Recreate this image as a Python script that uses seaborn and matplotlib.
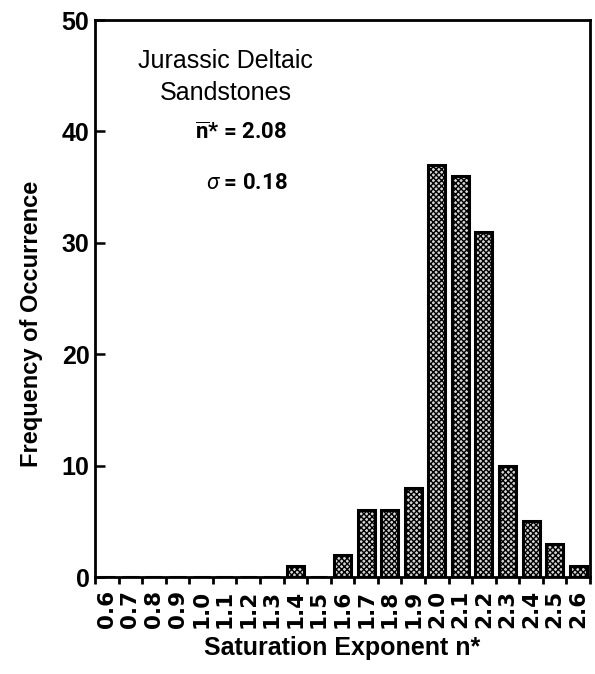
import matplotlib
matplotlib.use("Agg")
import matplotlib.pyplot as plt
import seaborn as sns
import pandas as pd
import numpy as np

# Histogram of saturation exponents
categories = ["0.6", "0.7", "0.8", "0.9", "1.0", "1.1", "1.2", "1.3", "1.4", "1.5", "1.6",
              "1.7", "1.8", "1.9", "2.0", "2.1", "2.2", "2.3", "2.4", "2.5", "2.6"]
counts = [0, 0, 0, 0, 0, 0, 0, 0, 1, 0, 2, 6, 6, 8, 37, 36, 31, 10, 5, 3, 1]
y_ticks = [0, 10, 20, 30, 40, 50]

sns.set_theme(style="white")
fam = ["Liberation Sans", "DejaVu Sans"]
plt.rcParams["font.family"] = fam
plt.rcParams["text.color"] = "black"
plt.rcParams["axes.labelcolor"] = "black"
plt.rcParams["xtick.color"] = "black"
plt.rcParams["ytick.color"] = "black"
plt.rcParams["mathtext.fontset"] = "custom"
plt.rcParams["mathtext.rm"] = "Roboto"
plt.rcParams["mathtext.bf"] = "Roboto:bold"
plt.rcParams["mathtext.it"] = "Roboto:italic"
plt.rcParams["hatch.linewidth"] = 1.0

cond = dict(family=fam, fontweight="bold", fontstretch="condensed")
heavy = dict(family=["DejaVu Sans"], fontweight="bold")
note = dict(family=["Roboto", "DejaVu Sans"], fontweight="bold")

df = pd.DataFrame({"n": categories, "freq": counts})

fig = plt.figure(figsize=(5.95, 6.74), dpi=100)
ax = fig.add_axes([0.1597, 0.1439, 0.832, 0.8264])

sns.barplot(data=df, x="n", y="freq", order=categories, color="white",
            width=0.72, edgecolor="black", linewidth=2.2, ax=ax, saturation=1)
for p in ax.patches:
    p.set_hatch("xxxxxx")
    p.set_facecolor("#d4d4d4")

ax.set_xlim(-0.5, len(categories) - 0.5)
ax.set_ylim(0, 50)
ax.set_yticks(y_ticks)
ax.set_yticklabels([str(v) for v in y_ticks], fontsize=18, **cond)

ax.set_xticks(np.arange(len(categories)))
ax.set_xticklabels(categories, rotation=90, fontsize=15.5, **heavy)
ax.set_xticks(np.arange(len(categories) + 1) - 0.5, minor=True)
ax.tick_params(axis="x", which="major", length=0, pad=9)
ax.tick_params(axis="x", which="minor", direction="out", length=5, width=2, color="black", bottom=True)
ax.tick_params(axis="y", which="major", direction="in", length=7, width=1.8, color="black", left=True, pad=4)

for s in ax.spines.values():
    s.set_visible(True)
    s.set_color("black")
    s.set_linewidth(2)

ax.set_xlabel("Saturation Exponent n*", fontsize=18, labelpad=6, **cond)
ax.set_ylabel("Frequency of Occurrence", fontsize=17, **cond)
ax.yaxis.set_label_coords(-0.105, 0.454)

ax.text(5.03, 44.9, "Jurassic Deltaic\nSandstones", ha="center", va="center",
        fontsize=18, linespacing=1.4, family=fam)
ax.text(5.69, 39.85, r"$\mathbf{\overline{n}}$" + "* = 2.08", ha="center", va="center",
        fontsize=16, **note)
ax.text(5.95, 35.4, r"$\sigma$" + " = 0.18", ha="center", va="center",
        fontsize=16, **note)

fig.savefig("out.png", dpi=100)
